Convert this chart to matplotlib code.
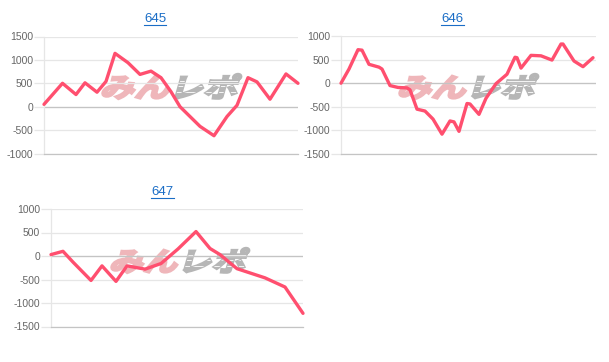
import matplotlib
matplotlib.use("Agg")
import matplotlib.pyplot as plt
from matplotlib.textpath import TextPath
from matplotlib.font_manager import FontProperties
from matplotlib.patches import PathPatch
from matplotlib.transforms import Affine2D, IdentityTransform
from matplotlib.lines import Line2D
import numpy as np

plt.rcParams['font.family'] = ['Liberation Sans', 'DejaVu Sans']
plt.rcParams['axes.unicode_minus'] = False

# ---- data ----
titles = ["645", "646", "647"]

x645 = [0, 18.5, 32, 41, 53, 62, 71, 84, 96, 107, 117, 127, 136, 156, 170, 183, 193, 204, 213, 226, 242, 254]
y645 = [50, 500, 260, 510, 310, 540, 1140, 940, 690, 760, 620, 320, 0, -420, -620, -210, 30, 620, 530, 160, 700, 500]

x646 = [0, 8, 17, 21, 28, 38, 41, 49, 57, 66, 69, 76, 84, 92, 101, 109, 113, 118, 126, 129, 138, 145, 155, 166,
        174, 176, 180, 190, 200, 211, 220, 222, 233, 242, 252]
y646 = [0, 300, 710, 700, 400, 340, 300, -50, -90, -100, -140, -550, -590, -760, -1080, -800, -820, -1020, -430,
        -440, -660, -320, -10, 190, 550, 540, 320, 590, 580, 490, 830, 830, 470, 350, 540]

x647 = [0, 12, 22, 40, 51, 65, 76, 94, 110, 127, 145, 159, 169, 186, 214, 234, 252]
y647 = [30, 100, -130, -520, -210, -540, -210, -280, -160, 150, 520, 160, 30, -270, -465, -660, -1220]

xs = [x645, x646, x647]
ys = [y645, y646, y647]
xlims = [(0, 254), (0, 255), (0, 252)]
ylims = [(-1000, 1500), (-1500, 1000), (-1500, 1000)]

W, H = 609, 362
fig = plt.figure(figsize=(W / 100, H / 100), dpi=100)

# axes boxes in pixels: left, right, top, bottom
boxes = [(44, 298, 36.5, 153.5), (341, 596, 36, 154), (51, 303, 209, 326.5)]
title_pos = [(155, 19.5), (452.5, 19.5), (162.5, 192.5)]
wm_boxes = [(99, 242, 74, 99), (396, 539, 74, 99), (108, 250, 248, 273)]

LINE = '#ff4f6f'
GRID = '#e6e6e6'
ZERO = '#c4c4c4'
TITLE = '#1a6dc6'
PINK = '#efb6ba'
GREY = '#b6b6b6'

prop = FontProperties(family='Noto Sans CJK JP', weight='bold')


def watermark(x0, x1, ytop, ybot):
    tp1 = TextPath((0, 0), 'みん', size=1, prop=prop)
    tp2 = TextPath((2.0, 0), 'レポ', size=1, prop=prop)
    v = np.vstack([tp1.vertices, tp2.vertices])
    xmin, ymin = v.min(axis=0)
    xmax, ymax = v.max(axis=0)
    h = ybot - ytop
    ang = 16
    extra = np.tan(np.radians(ang)) * h
    sx = (x1 - x0 - extra) / (xmax - xmin)
    sy = h / (ymax - ymin)
    tr = (Affine2D().translate(-xmin, -ymin).scale(sx, sy).skew_deg(ang, 0)
          .translate(x0, H - ybot))
    p1 = PathPatch(tr.transform_path(tp1), facecolor=PINK, edgecolor=PINK,
                   linewidth=1.7, joinstyle='miter',
                   transform=IdentityTransform(), zorder=-1)
    p2 = PathPatch(tr.transform_path(tp2), facecolor=GREY, edgecolor=GREY,
                   linewidth=1.7, joinstyle='miter',
                   transform=IdentityTransform(), zorder=-1)
    fig.add_artist(p1)
    fig.add_artist(p2)
    for f in (0.3, 0.52, 0.74):
        yy = H - ybot + f * h
        ln = Line2D([x0 + 70, x1], [yy, yy], color='white', linewidth=0.6,
                    transform=IdentityTransform(), zorder=-0.9)
        fig.add_artist(ln)
        ln.set_clip_path(p2)


title_texts = []
for i in range(3):
    l, r, t, b = boxes[i]
    ax = fig.add_axes([l / W, 1 - b / H, (r - l) / W, (b - t) / H])
    ax.set_facecolor('none')
    ax.plot(xs[i], ys[i], color=LINE, linewidth=2.4, solid_joinstyle='round',
            solid_capstyle='round', zorder=3, clip_on=False)
    ax.set_xlim(*xlims[i])
    ax.set_ylim(*ylims[i])
    ax.set_yticks(np.arange(ylims[i][0], ylims[i][1] + 1, 500))
    ax.set_xticks([])
    ax.grid(axis='y', color=GRID, linewidth=0.9)
    ax.axhline(0, color=ZERO, linewidth=0.9, zorder=1)
    ax.set_axisbelow(True)
    for s in ('top', 'right'):
        ax.spines[s].set_visible(False)
    ax.spines['left'].set_color(GRID)
    ax.spines['left'].set_linewidth(0.9)
    ax.spines['bottom'].set_color(ZERO)
    ax.spines['bottom'].set_linewidth(0.9)
    ax.tick_params(axis='y', length=7, width=0.9, color=GRID, pad=1,
                   labelsize=7.5, labelcolor='#666666')
    tx, ty = title_pos[i]
    tt = fig.text(tx / W, 1 - ty / H, titles[i], color=TITLE,
                  fontsize=9.5, ha='center', va='center')
    title_texts.append(tt)
    watermark(*wm_boxes[i])

fig.canvas.draw()
renderer = fig.canvas.get_renderer()
for tt in title_texts:
    bb = tt.get_window_extent(renderer)
    yy = bb.y0 + 0.5
    fig.add_artist(Line2D([bb.x0, bb.x1], [yy, yy], color=TITLE, linewidth=0.8,
                          transform=IdentityTransform()))

fig.savefig('out.png', dpi=100, facecolor='white')
